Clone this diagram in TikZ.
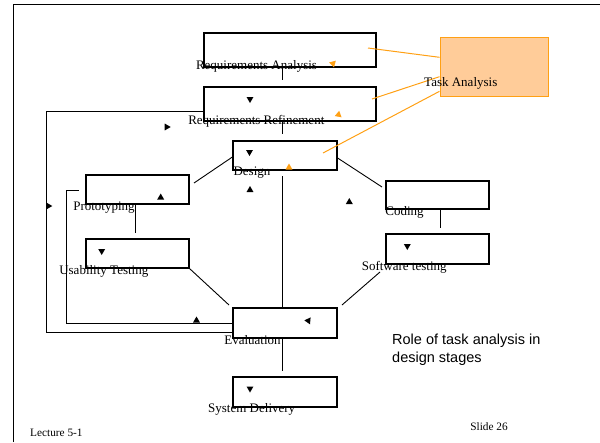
\documentclass[tikz,border=0pt]{standalone}
\usepackage{fontspec}
\setmainfont{Liberation Serif}
\newfontfamily\rolefont{Liberation Sans}
\usetikzlibrary{shapes.geometric}
\definecolor{taline}{RGB}{255,160,20}
\definecolor{tafill}{RGB}{255,204,153}
\tikzset{
  box/.style={draw, line width=1.2pt, inner sep=0pt},
  conn/.style={line width=0.9pt},
  taconn/.style={draw=taline, line width=1pt},
  lab/.style={anchor=base, inner sep=0pt, font=\fontsize{13}{15}\selectfont},
  foot/.style={anchor=base, inner sep=0pt, font=\fontsize{11.3}{13}\selectfont},
  rolelab/.style={anchor=base west, inner sep=0pt, font=\rolefont\fontsize{14.5}{17.4}\selectfont},
  tri/.style={regular polygon, regular polygon sides=3, fill=black, inner sep=0pt, minimum size=8pt},
  otri/.style={tri, fill=taline},
}
\begin{document}
\begin{tikzpicture}[x=1pt,y=-1pt]
\useasboundingbox (0,0) rectangle (600,442);
% frame
\draw[line width=1.4pt] (13.3,442) -- (13.3,4.7) -- (600,4.7);

% boxes
\node[box, minimum width=172pt, minimum height=34pt] (ra) at (290,50) {};
\node[box, minimum width=172pt, minimum height=34pt] (rr) at (290,104) {};
\node[box, minimum width=104pt, minimum height=29pt] (de) at (285,155.5) {};
\node[box, minimum width=103pt, minimum height=29pt] (pr) at (137.5,189.5) {};
\node[box, minimum width=103pt, minimum height=29pt] (us) at (137.5,253.5) {};
\node[box, minimum width=103pt, minimum height=28pt] (co) at (437.5,195) {};
\node[box, minimum width=103pt, minimum height=30pt] (sw) at (437.5,249) {};
\node[box, minimum width=104pt, minimum height=30pt] (ev) at (285,323) {};
\node[box, minimum width=104pt, minimum height=30pt] (sd) at (285,392) {};
\node[draw=taline, fill=tafill, line width=1pt, minimum width=108pt, minimum height=59pt, inner sep=0pt] (ta) at (494,66.5) {};

% connector end points
\coordinate (c1) at (282,80);
\coordinate (c2) at (282,134);
\coordinate (c3) at (282,176);
\coordinate (c4) at (282,371);
\coordinate (c5) at (135,233);
\coordinate (c6) at (440,228);
\coordinate (c7) at (194,183);
\coordinate (c8) at (382,187);
\coordinate (c9) at (229,305);
\coordinate (c10) at (380,272);
\coordinate (c11) at (342,305);
\coordinate (l1) at (66,323);
\coordinate (l2) at (66,190);
\coordinate (l3) at (79,190);
\coordinate (m1) at (46,332);
\coordinate (m2) at (46,111);
\coordinate (o1) at (368,48);
\coordinate (o2) at (372,99);
\coordinate (o3) at (323,153);

% connectors
\draw[conn] (ra.south -| c1) -- (c1);
\draw[conn] (rr.south -| c2) -- (c2);
\draw[conn] (c3) -- (ev.north -| c3);
\draw[conn] (ev.south -| c4) -- (c4);
\draw[conn] (pr.south -| c5) -- (c5);
\draw[conn] (co.south -| c6) -- (c6);
\draw[conn] ([yshift=-1.5pt]de.west) -- (c7);
\draw[conn] ([yshift=-2.5pt]de.east) -- (c8);
\draw[conn] (us.south east) -- (c9);
\draw[conn] (c10) -- (c11);
\draw[conn] (ev.west) -- (l1) -- (l2) -- (l3);
\draw[conn] (ev.west |- m1) -- (m1) -- (m2) -- (rr.west |- m2);

% task analysis links
\draw[taconn] (ta.west |- 0,57.3) -- (o1);
\draw[taconn] (ta.west |- 0,76.7) -- (o2);
\draw[taconn] (ta.west |- 0,91.3) -- (o3);

% arrowheads
\node[tri, rotate=180] (t1) at (250,99) {};
\node[tri, rotate=180] (t2) at (249.5,152) {};
\node[tri, rotate=180] (t3) at (101.7,251) {};
\node[tri, rotate=180] (t4) at (407.3,246) {};
\node[tri, rotate=180] (t5) at (250,388.5) {};
\node[tri] (t6) at (250,190) {};
\node[tri] (t7) at (160.7,197.5) {};
\node[tri] (t8) at (349.3,202) {};
\node[tri] (t9) at (196.5,320.5) {};
\node[tri, rotate=-90] (t10) at (166.7,127) {};
\node[tri, rotate=-90] (t11) at (48.3,206) {};
\node[tri, rotate=-35] (t12) at (308.3,320.7) {};
\node[otri, rotate=75] (t13) at (333,63.5) {};
\node[otri, rotate=-10] (t14) at (338.5,114.7) {};
\node[otri] (t15) at (289,167.5) {};

% labels
\node[lab] (lra) at (256.5,69.5) {Requirements Analysis};
\node[lab] (lrr) at (256.3,124) {Requirements Refinement};
\node[lab] (lde) at (252,175.5) {Design};
\node[lab] (lpr) at (104,210.5) {Prototyping};
\node[lab] (lus) at (103.8,274.5) {Usability Testing};
\node[lab] (lco) at (404.5,215) {Coding};
\node[lab] (lsw) at (404.2,270) {Software testing};
\node[lab] (lev) at (252.5,344) {Evaluation};
\node[lab] (lsd) at (251.7,412) {System Delivery};
\node[lab] (lta) at (460.8,86.5) {Task Analysis};
\node[foot, anchor=base west] (lec) at (30,436.5) {Lecture 5-1};
\node[foot] (sl) at (489,430.5) {Slide 26};
\node[rolelab] (role1) at (392,344.5) {Role of task analysis in};
\node[rolelab] (role2) at (392,362) {design stages};
\end{tikzpicture}
\end{document}
